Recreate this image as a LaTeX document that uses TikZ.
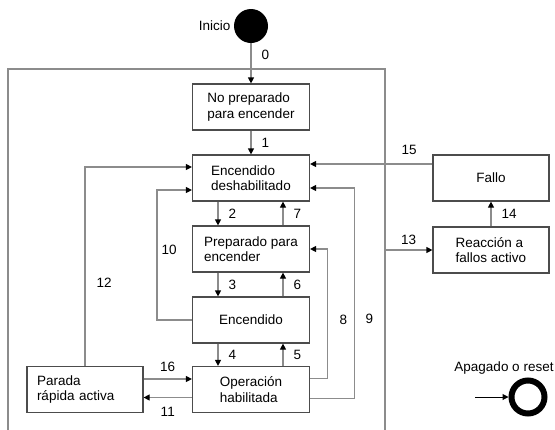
\documentclass[tikz,border=0pt]{standalone}
\usepackage{fontspec}
\setmainfont{Liberation Sans}
\usetikzlibrary{arrows.meta}
\definecolor{boxgray}{gray}{0.3}
\definecolor{linegray}{gray}{0.55}
\tikzset{
	% Node styles for the state diagram: states, start and end points
	state node/.style={draw=boxgray,line width=1.2pt,minimum width=117pt,minimum height=46pt,align=left,inner sep=0pt},
	start node/.style={circle,fill=black,minimum size=34pt,inner sep=0pt},
	end node/.style={circle,draw=black,line width=6pt,minimum size=33pt,inner sep=0pt},
	% transitions: grey line, black head
	trans/.style={draw=linegray,line width=1.2pt,-{Triangle[length=6pt,width=6pt,color=black]}},
	num/.style={inner sep=0pt}
}

\begin{document}
\begin{tikzpicture}[x=1pt,y=-1pt,font=\fontsize{13.5}{15.5}\selectfont]
	% macro for the vertical transitions between stacked states
	\newcommand{\vtrans}[4]{\draw[trans]([xshift=#1]#2)--node[num,right=10pt]{#4}([xshift=#1]#3);}
	\useasboundingbox (0,0) rectangle (555,429);
	
	% outer frame, open at the bottom
	\draw[linegray,line width=1.5pt] (8,432) -- (8,69) -- (385,69) -- (385,432);
	
	\node(ini)[start node,label=left:Inicio] at (251,26) {};
	\node(noprep)[state node] at (251,107) {No preparado\\para encender};
	\node(endes)[state node] at (251,178) {Encendido\\deshabilitado};
	\node(prep)[state node] at (251,249) {Preparado para\\encender};
	\node(enc)[state node] at (251,320) {Encendido};
	\node(oper)[state node] at (251,389.5) {Operación\\habilitada};
	\node(parada)[state node,minimum width=116pt,text width=96pt] at (85,389.5) {Parada\\rápida activa};
	\node(fallo)[state node,minimum width=116pt] at (491,178) {Fallo};
	\node(reac)[state node,minimum width=116pt] at (491,250) {Reacción a\\fallos activo};
	\node(apag)[end node,label={[xshift=-24pt]above:Apagado o reset}] at (528,397) {};
	\coordinate (c13) at (385,250);
	\coordinate (rin) at (475,397);
	
	\draw[trans] (ini) -- node[num,right=10pt,pos=0.3]{0} (noprep);
	\vtrans{0pt}{noprep.south}{endes.north}{1}
	\vtrans{-33pt}{endes.south}{prep.north}{2}
	\vtrans{32pt}{prep.north}{endes.south}{7}
	\vtrans{-33pt}{prep.south}{enc.north}{3}
	\vtrans{32pt}{enc.north}{prep.south}{6}
	\vtrans{-33pt}{enc.south}{oper.north}{4}
	\vtrans{32pt}{oper.north}{enc.south}{5}
	
	\draw[trans] ([yshift=11pt]oper.east) -- ++(17,0) |- node[num,pos=0.225,right=12pt]{8} (prep.east);
	\draw[trans] ([yshift=-9pt]oper.east) -- ++(44,0) |- node[num,pos=0.19,right=11pt]{9} ([yshift=-10pt]endes.east);
	\draw[trans] (enc.west) -- ++(-35,0) |- node[num,pos=0.27,right=4pt]{10} ([yshift=-12pt]endes.west);
	\draw[trans] ([yshift=-8pt]oper.west) -- node[num,below=9.5pt]{11} ([yshift=-8pt]parada.east);
	\draw[trans] (parada.north) |- node[num,pos=0.21,right=11pt]{12} ([yshift=11pt]endes.west);
	\draw[trans] (c13) -- node[num,above=5pt]{13} (reac.west);
	\draw[trans] (reac.north) -- node[num,right=10pt]{14} (fallo.south);
	\draw[trans] ([yshift=14pt]fallo.west) -- node[num,pos=0.19,above=9pt]{15} ([yshift=14pt]endes.east);
	\draw[trans] ([yshift=10.5pt]parada.east) -- node[num,above=7pt]{16} ([yshift=10.5pt]oper.west);
	
	\draw[trans,draw=black,line width=1pt] (rin) -- (apag.west);
\end{tikzpicture}
\end{document}
